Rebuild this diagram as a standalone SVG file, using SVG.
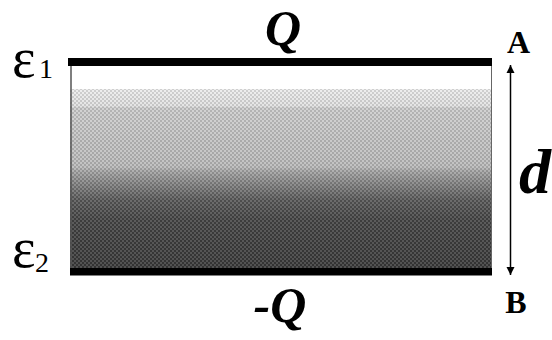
<svg xmlns="http://www.w3.org/2000/svg" width="552" height="340" viewBox="0 0 552 340">
<defs>
<linearGradient id="diel" x1="0" y1="0" x2="0" y2="1">
<stop offset="0" stop-color="#ffffff"/>
<stop offset="0.113" stop-color="#ffffff"/>
<stop offset="0.116" stop-color="#ececec"/>
<stop offset="0.2" stop-color="#e0e0e0"/>
<stop offset="0.206" stop-color="#cdcdcd"/>
<stop offset="0.5" stop-color="#bababa"/>
<stop offset="0.52" stop-color="#a4a4a4"/>
<stop offset="0.66" stop-color="#5a5a5a"/>
<stop offset="0.76" stop-color="#454545"/>
<stop offset="1" stop-color="#393939"/>
</linearGradient>
<pattern id="dither" x="0" y="0" width="4" height="4" patternUnits="userSpaceOnUse">
<rect x="0" y="0" width="2" height="2" fill="#000" fill-opacity="0.12"/>
<rect x="2" y="2" width="2" height="2" fill="#000" fill-opacity="0.12"/>
<rect x="2" y="0" width="2" height="2" fill="#fff" fill-opacity="0.12"/>
<rect x="0" y="2" width="2" height="2" fill="#fff" fill-opacity="0.12"/>
</pattern>
<marker id="ah" viewBox="0 0 8 12" refX="8" refY="6" markerWidth="8" markerHeight="12" markerUnits="userSpaceOnUse" orient="auto-start-reverse">
<path d="M0,2 L8,6 L0,10 Z" fill="#000"/>
</marker>
<style>
.plate{fill:#000}
text{font-family:'Liberation Serif','Times New Roman',serif}
.bi{font-weight:bold;font-style:italic}
.b{font-weight:bold}
</style>
</defs>
<rect width="552" height="340" fill="#fff"/>
<g id="dielectric">
<rect x="70" y="66" width="422" height="202" fill="url(#diel)"/>
<rect x="70" y="89" width="422" height="179" fill="url(#dither)"/>
<line x1="71" y1="66" x2="71" y2="268" stroke="#555" stroke-width="1.5"/>
<line x1="491.5" y1="66" x2="491.5" y2="268" stroke="#666" stroke-width="1"/>
</g>
<g id="plate-top">
<rect class="plate" x="68" y="58" width="424" height="8"/>
<text class="bi" x="283" y="45" font-size="50" text-anchor="middle">Q</text>
</g>
<g id="plate-bottom">
<rect class="plate" x="70" y="268" width="422" height="7.5"/>
<text class="bi" x="280" y="322" font-size="50" text-anchor="middle">-Q</text>
</g>
<g id="eps1">
<text x="12" y="77" font-size="56">ε</text>
<text x="39" y="78" font-size="28">1</text>
</g>
<g id="eps2">
<text x="12" y="267" font-size="56">ε</text>
<text x="35" y="272" font-size="28">2</text>
</g>
<g id="label-A"><text class="b" x="518.5" y="53" font-size="32" text-anchor="middle">A</text></g>
<g id="label-B"><text class="b" x="516" y="313" font-size="32" text-anchor="middle">B</text></g>
<g id="label-d"><text class="bi" x="519" y="193" font-size="64">d</text></g>
<g id="connectors">
<line x1="510.5" y1="65" x2="510.5" y2="275" stroke="#000" stroke-width="1.5" marker-start="url(#ah)" marker-end="url(#ah)"/>
</g>
</svg>
